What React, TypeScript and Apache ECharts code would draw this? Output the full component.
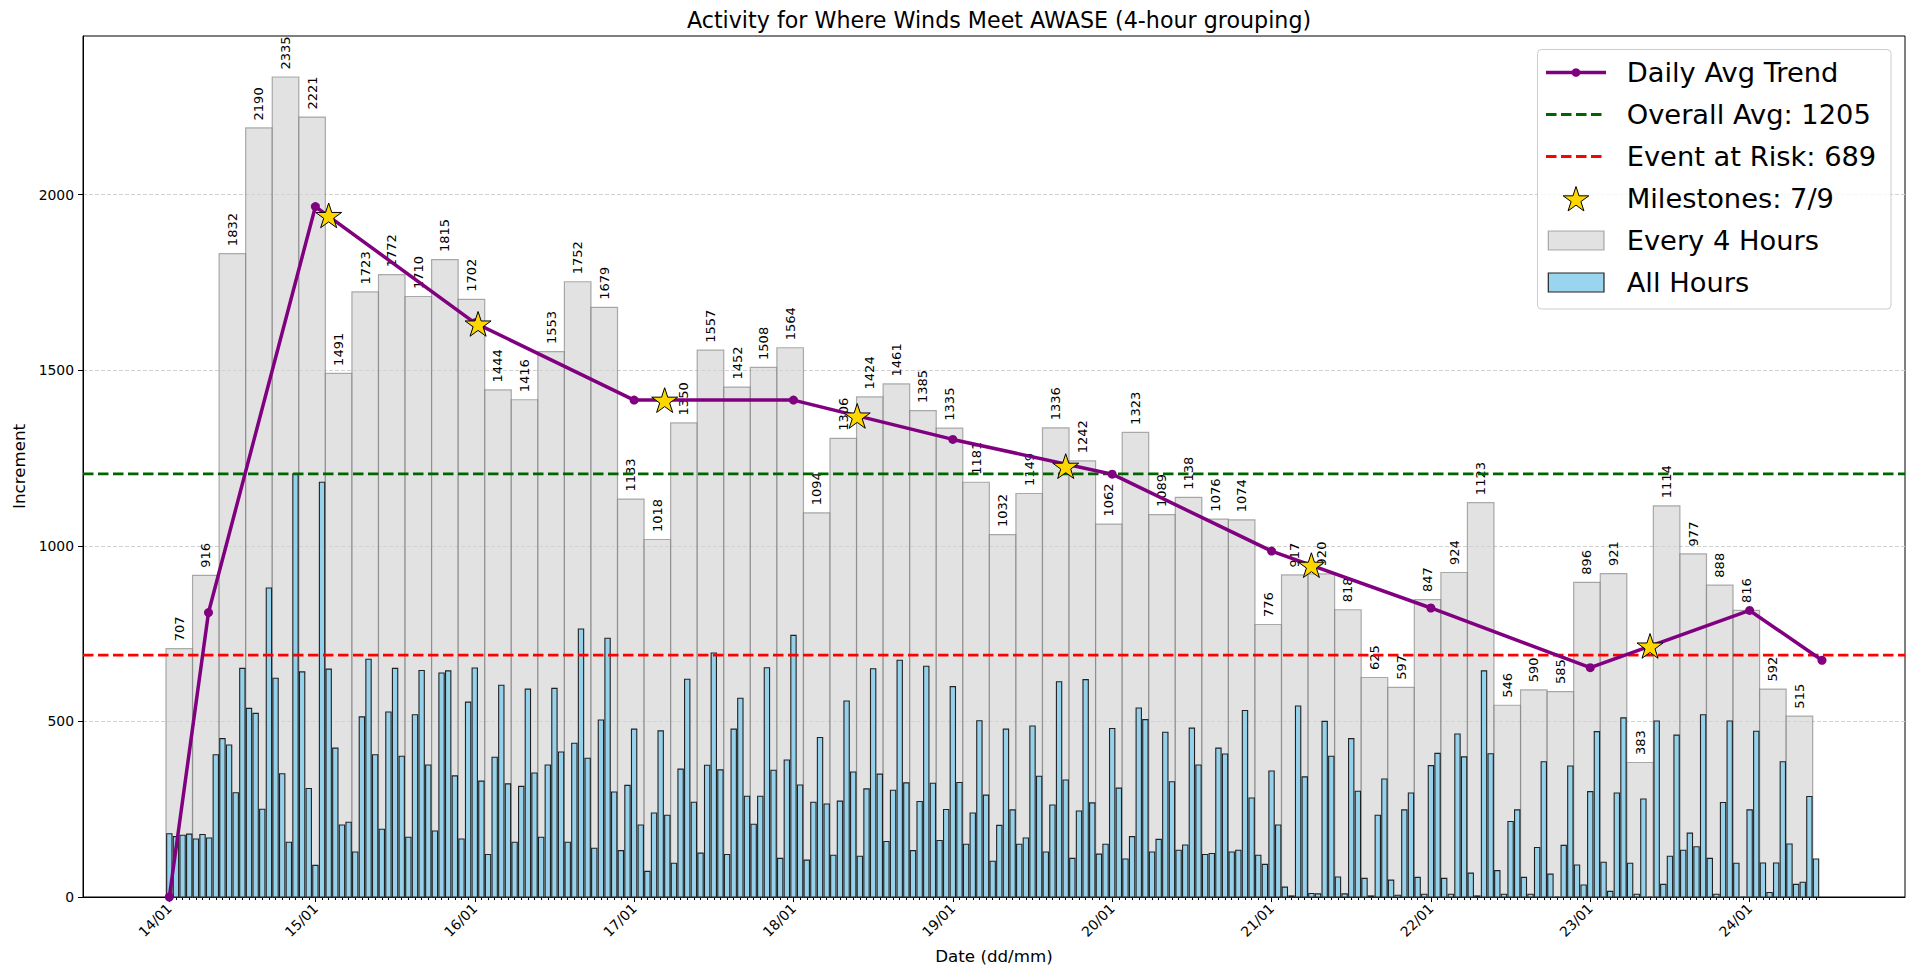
import React, { useEffect, useRef } from "react";
import * as echarts from "echarts";

const FONT = "'DejaVu Sans', 'Liberation Sans', sans-serif";

const TITLE = "Activity for Where Winds Meet AWASE (4-hour grouping)";
const X_NAME = "Date (dd/mm)";
const Y_NAME = "Increment";

// date tick labels and their positions (in hourly-bar index units)
const DATE_LABELS = ["14/01", "15/01", "16/01", "17/01", "18/01", "19/01", "20/01", "21/01", "22/01", "23/01", "24/01"];
const DATE_TICK_POS = [0, 22, 46, 70, 94, 118, 142, 166, 190, 214, 238];
const Y_TICKS = [0, 500, 1000, 1500, 2000];

// every 4 hours (grey bars)
const GROUP_VALUES = [
  707, 916, 1832, 2190, 2335, 2221, 1491, 1723, 1772, 1710, 1815, 1702,
  1444, 1416, 1553, 1752, 1679, 1133, 1018, 1350, 1557, 1452, 1508, 1564,
  1094, 1306, 1424, 1461, 1385, 1335, 1181, 1032, 1149, 1336, 1242, 1062,
  1323, 1089, 1138, 1076, 1074, 776, 917, 920, 818, 625, 597, 847,
  924, 1123, 546, 590, 585, 896, 921, 383, 1114, 977, 888, 816, 592, 515,
];

// all hours (blue bars)
const HOURLY_VALUES = [
  180, 172, 176, 179, 165, 178, 168, 405, 451, 433, 297, 651,
  537, 523, 250, 880, 623, 351, 156, 1205, 641, 309, 90, 1181,
  649, 424, 205, 213, 128, 513, 677, 405, 193, 527, 651, 401,
  170, 519, 645, 376, 188, 638, 644, 345, 165, 555, 652, 330,
  121, 398, 603, 322, 156, 315, 592, 353, 170, 376, 594, 413,
  156, 438, 763, 395, 139, 504, 737, 299, 132, 318, 478, 205,
  73, 239, 473, 233, 96, 364, 620, 270, 125, 375, 695, 362,
  121, 478, 566, 287, 207, 287, 653, 361, 110, 390, 745, 319,
  105, 270, 454, 265, 119, 273, 558, 356, 116, 308, 650, 350,
  158, 304, 674, 325, 132, 272, 657, 324, 161, 249, 599, 326,
  150, 239, 502, 290, 102, 204, 478, 248, 150, 168, 487, 344,
  128, 262, 613, 333, 110, 245, 619, 268, 122, 150, 480, 310,
  108, 172, 538, 505, 128, 164, 469, 328, 133, 148, 481, 376,
  121, 124, 424, 407, 128, 133, 531, 282, 119, 93, 359, 205,
  28, 3, 544, 342, 10, 9, 500, 401, 57, 9, 451, 301,
  53, 3, 233, 336, 48, 5, 248, 296, 56, 8, 374, 409,
  53, 8, 464, 399, 68, 3, 644, 408, 75, 8, 215, 248,
  56, 8, 141, 385, 65, 0, 147, 373, 91, 34, 300, 471,
  99, 16, 296, 510, 96, 8, 279, 0, 501, 36, 116, 461,
  133, 182, 143, 519, 110, 8, 269, 501, 96, 0, 248, 472,
  97, 13, 97, 385, 151, 36, 42, 286, 108,
];

// daily average trend
const TREND_X = [0, 5.9, 22, 46, 70, 94, 118, 142, 166, 190, 214, 238, 248.9];
const TREND_Y = [0, 810, 1966, 1635, 1415, 1415, 1303, 1204, 985, 823, 653, 816, 674];

// milestones
const STAR_X = [24.0, 46.5, 74.6, 103.6, 135.0, 172.0, 223.0];
const STAR_Y = [1941, 1632, 1415, 1370, 1227, 945, 715];

const OVERALL_AVG = 1205;
const RISK_LEVEL = 689;
const MILESTONES_HIT = 7;
const MILESTONES_TOTAL = 9;

const LEGEND_LABELS = [
  "Daily Avg Trend",
  `Overall Avg: ${OVERALL_AVG}`,
  `Event at Risk: ${RISK_LEVEL}`,
  `Milestones: ${MILESTONES_HIT}/${MILESTONES_TOTAL}`,
  "Every 4 Hours",
  "All Hours",
];

const X_MIN = -13;
const X_MAX = 261.4;
const Y_MAX = 2451.75;

const PURPLE = "#800080";
const GREEN = "#006400";
const RED = "#ff0000";
const GOLD = "#FFD700";
const GRAY_FILL = "rgba(211,211,211,0.65)";
const GRAY_EDGE = "rgba(120,120,120,0.6)";
const BLUE_FILL = "rgba(135,206,235,0.85)";
const BLUE_EDGE = "#222222";

// 5-point star outline (matplotlib '*' marker shape)
const starPoints = (cx: number, cy: number, R: number) =>
  Array.from({ length: 10 }, (_, k) => {
    const a = Math.PI / 2 + (k * Math.PI) / 5;
    const r = k % 2 === 0 ? R : R * 0.381966;
    return [cx + Math.cos(a) * r, cy - Math.sin(a) * r];
  });
const STAR_PATH =
  "path://M" +
  starPoints(50, 50, 50)
    .map((p) => `${p[0].toFixed(2)},${p[1].toFixed(2)}`)
    .join(" L") +
  " Z";

export default function App() {
  const ref = useRef<HTMLDivElement>(null);

  useEffect(() => {
    if (!ref.current) return;
    const chart = echarts.init(ref.current, undefined, { renderer: "svg" });

    const groupData = GROUP_VALUES.map((v, g) => [4 * g - 0.5, 4 * g + 3.5, v]);
    const hourData = HOURLY_VALUES.map((v, i) => [i - 0.4, i + 0.4, v]);
    const hourPos = HOURLY_VALUES.map((_, i) => i);
    const trendData = TREND_X.map((x, i) => [x, TREND_Y[i]]);
    const starData = STAR_X.map((x, i) => [x, STAR_Y[i]]);
    const labelByPos = new Map(DATE_TICK_POS.map((p, i) => [p, DATE_LABELS[i]]));

    const LX = 1546;
    const LW = 60;
    const TX = 1626.7;
    const rows = [72.5, 114.5, 156.5, 198.5, 240.5, 282.5];

    const legendGraphics: any[] = [
      {
        type: "rect",
        z: 100,
        shape: { x: 1537.5, y: 49.5, width: 353.5, height: 259.5, r: 4 },
        style: { fill: "rgba(255,255,255,0.8)", stroke: "#cccccc", lineWidth: 1 },
      },
      {
        type: "line",
        z: 101,
        shape: { x1: LX, y1: rows[0], x2: LX + LW, y2: rows[0] },
        style: { stroke: PURPLE, lineWidth: 3.5 },
      },
      {
        type: "circle",
        z: 102,
        shape: { cx: LX + LW / 2, cy: rows[0], r: 4.3 },
        style: { fill: PURPLE },
      },
      {
        type: "line",
        z: 101,
        shape: { x1: LX, y1: rows[1], x2: LX + LW, y2: rows[1] },
        style: { stroke: GREEN, lineWidth: 2.8, lineDash: [10.5, 4.5] },
      },
      {
        type: "line",
        z: 101,
        shape: { x1: LX, y1: rows[2], x2: LX + LW, y2: rows[2] },
        style: { stroke: RED, lineWidth: 2.8, lineDash: [10.5, 4.5] },
      },
      {
        type: "polygon",
        z: 101,
        shape: { points: starPoints(LX + LW / 2, rows[3] + 1.5, 13.5) },
        style: { fill: GOLD, stroke: "#000", lineWidth: 1 },
      },
      {
        type: "rect",
        z: 101,
        shape: { x: 1548.3, y: rows[4] - 9.5, width: 55.7, height: 19 },
        style: { fill: GRAY_FILL, stroke: GRAY_EDGE, lineWidth: 1.2 },
      },
      {
        type: "rect",
        z: 101,
        shape: { x: 1548.3, y: rows[5] - 9.5, width: 55.7, height: 19 },
        style: { fill: BLUE_FILL, stroke: BLUE_EDGE, lineWidth: 1.2 },
      },
      ...LEGEND_LABELS.map((t, i) => ({
        type: "text",
        z: 101,
        x: TX,
        y: rows[i],
        style: {
          text: t,
          fontSize: 27.3,
          fontFamily: FONT,
          fill: "#000",
          align: "left",
          verticalAlign: "middle",
        },
      })),
    ];

    const option: any = {
      animation: false,
      backgroundColor: "#ffffff",
      textStyle: { fontFamily: FONT },
      title: {
        text: TITLE,
        left: 994,
        top: 3.5,
        textAlign: "center",
        textStyle: { fontSize: 22.2, fontWeight: "normal", color: "#000", fontFamily: FONT },
      },
      grid: {
        left: 83,
        top: 36,
        right: 15,
        bottom: 78,
        show: true,
        borderColor: "#000",
        borderWidth: 1,
        backgroundColor: "transparent",
      },
      xAxis: [
        {
          type: "value",
          min: X_MIN,
          max: X_MAX,
          name: X_NAME,
          nameLocation: "middle",
          nameGap: 50,
          nameTextStyle: { fontSize: 16.7, color: "#000", fontFamily: FONT },
          axisLine: { show: true, onZero: false, lineStyle: { color: "#000", width: 1 } },
          axisTick: {
            show: true,
            customValues: DATE_TICK_POS,
            length: 5,
            lineStyle: { color: "#000", width: 1 },
          },
          axisLabel: {
            show: true,
            customValues: DATE_TICK_POS,
            formatter: (v: number) => labelByPos.get(v) ?? "",
            rotate: 45,
            margin: 9,
            fontSize: 13.9,
            color: "#000",
            fontFamily: FONT,
          },
          splitLine: { show: false },
        },
        {
          type: "value",
          min: X_MIN,
          max: X_MAX,
          position: "bottom",
          axisLine: { show: false, onZero: false },
          axisTick: {
            show: true,
            customValues: hourPos,
            length: 3,
            lineStyle: { color: "#000", width: 1 },
          },
          axisLabel: { show: false },
          splitLine: { show: false },
        },
      ],
      yAxis: {
        type: "value",
        min: 0,
        max: Y_MAX,
        name: Y_NAME,
        nameLocation: "middle",
        nameGap: 42,
        nameTextStyle: { fontSize: 16.7, color: "#000", fontFamily: FONT },
        axisLine: { show: true, onZero: false, lineStyle: { color: "#000", width: 1 } },
        axisTick: {
          show: true,
          customValues: Y_TICKS,
          length: 5,
          lineStyle: { color: "#000", width: 1 },
        },
        axisLabel: {
          customValues: Y_TICKS,
          formatter: (v: number) => String(v),
          margin: 9,
          fontSize: 13.9,
          color: "#000",
          fontFamily: FONT,
        },
        splitLine: {
          show: true,
          lineStyle: { color: "#d0d0d0", width: 1, type: [4, 2] },
        },
      },
      series: [
        {
          name: LEGEND_LABELS[4],
          type: "custom",
          xAxisIndex: 0,
          z: 1,
          encode: { x: [0, 1], y: 2 },
          data: groupData,
          renderItem: (_params: any, api: any) => {
            const x0 = api.value(0);
            const x1 = api.value(1);
            const v = api.value(2);
            const tl = api.coord([x0, v]);
            const br = api.coord([x1, 0]);
            return {
              type: "group",
              children: [
                {
                  type: "rect",
                  shape: { x: tl[0], y: tl[1], width: br[0] - tl[0], height: br[1] - tl[1] },
                  style: { fill: GRAY_FILL, stroke: GRAY_EDGE, lineWidth: 1.2 },
                },
                {
                  type: "text",
                  x: (tl[0] + br[0]) / 2,
                  y: tl[1] - 7.5,
                  rotation: Math.PI / 2,
                  style: {
                    text: String(v),
                    fontSize: 13,
                    fontFamily: FONT,
                    fill: "#000",
                    align: "left",
                    verticalAlign: "middle",
                  },
                },
              ],
            };
          },
        },
        {
          name: LEGEND_LABELS[5],
          type: "custom",
          xAxisIndex: 0,
          z: 2,
          encode: { x: [0, 1], y: 2 },
          data: hourData,
          renderItem: (_params: any, api: any) => {
            const tl = api.coord([api.value(0), api.value(2)]);
            const br = api.coord([api.value(1), 0]);
            return {
              type: "rect",
              shape: { x: tl[0], y: tl[1], width: br[0] - tl[0], height: br[1] - tl[1] },
              style: { fill: BLUE_FILL, stroke: BLUE_EDGE, lineWidth: 1.1 },
            };
          },
        },
        {
          name: LEGEND_LABELS[1],
          type: "line",
          xAxisIndex: 0,
          z: 3,
          symbol: "none",
          data: [
            [X_MIN, OVERALL_AVG],
            [X_MAX, OVERALL_AVG],
          ],
          lineStyle: { color: GREEN, width: 2.8, type: [10.5, 4.5] },
          silent: true,
        },
        {
          name: LEGEND_LABELS[2],
          type: "line",
          xAxisIndex: 0,
          z: 3,
          symbol: "none",
          data: [
            [X_MIN, RISK_LEVEL],
            [X_MAX, RISK_LEVEL],
          ],
          lineStyle: { color: RED, width: 2.8, type: [10.5, 4.5] },
          silent: true,
        },
        {
          name: LEGEND_LABELS[0],
          type: "line",
          xAxisIndex: 0,
          z: 4,
          data: trendData,
          symbol: "circle",
          symbolSize: 9,
          showSymbol: true,
          itemStyle: { color: PURPLE },
          lineStyle: { color: PURPLE, width: 3.5 },
        },
        {
          name: LEGEND_LABELS[3],
          type: "scatter",
          xAxisIndex: 0,
          z: 5,
          data: starData,
          symbol: STAR_PATH,
          symbolSize: 26,
          symbolKeepAspect: true,
          itemStyle: { color: GOLD, borderColor: "#000", borderWidth: 1, opacity: 1 },
        },
      ],
      graphic: legendGraphics,
    };

    chart.setOption(option);
    return () => {
      chart.dispose();
    };
  }, []);

  return (
    <div
      ref={ref}
      style={{ position: "fixed", left: 0, top: 0, width: 1920, height: 975, background: "#fff" }}
    />
  );
}
